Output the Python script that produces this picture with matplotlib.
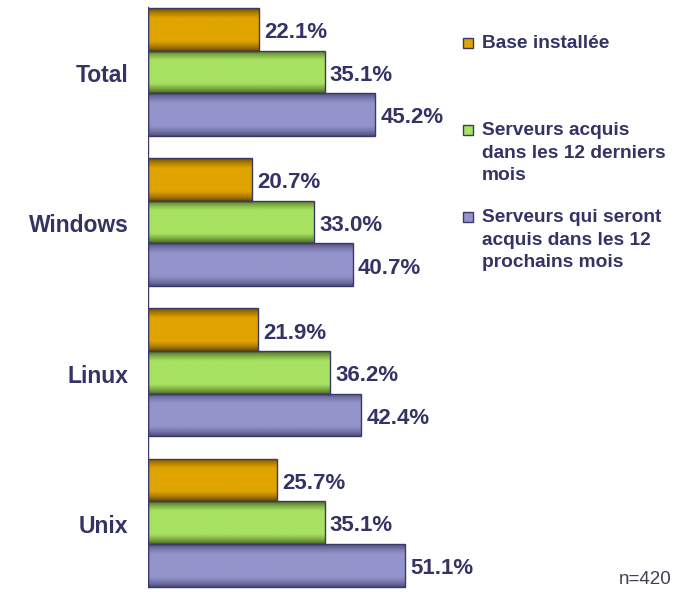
import numpy as np
import matplotlib
matplotlib.use("Agg")
import matplotlib.pyplot as plt
from matplotlib.colors import LinearSegmentedColormap

plt.rcParams['font.family'] = ['Liberation Sans', 'DejaVu Sans']

categories = ["Total", "Windows", "Linux", "Unix"]
base_installee = [22.1, 20.7, 21.9, 25.7]
acquis_12_derniers = [35.1, 33.0, 36.2, 35.1]
acquis_12_prochains = [45.2, 40.7, 42.4, 51.1]
series_labels = ["Base installée",
                 "Serveurs acquis\ndans les 12 derniers\nmois",
                 "Serveurs qui seront\nacquis dans les 12\nprochains mois"]

txt = '#333366'
# (dark edge, light middle) for each series
shades = [('#6a4800', '#e0a400'), ('#46651c', '#a8e262'), ('#4c4c7c', '#9494cc')]

fig = plt.figure(figsize=(6.84, 5.92), dpi=100)
ax = fig.add_axes([148 / 684, 0, 503 / 684, 1])
ax.axis('off')

h = 0.284
y = np.arange(len(categories))
series = [base_installee, acquis_12_derniers, acquis_12_prochains]

prof = np.linspace(0, 1, 64)
grad = np.clip(np.sin(np.pi * prof) * 1.5, 0, 1) ** 0.8

for k, vals in enumerate(series):
    dark, light = shades[k]
    cmap = LinearSegmentedColormap.from_list('g%d' % k, [dark, light])
    bars = ax.barh(y + (k - 1) * h, vals, height=h, color=light,
                   edgecolor='#3a3a66', linewidth=1.0, zorder=2)
    for b, v in zip(bars, vals):
        x0, y0 = b.get_x(), b.get_y()
        im = ax.imshow(grad.reshape(-1, 1), cmap=cmap, aspect='auto',
                       extent=(x0, x0 + b.get_width(), y0 + b.get_height(), y0),
                       origin='upper', vmin=0, vmax=1, zorder=2.5)
        im.set_clip_path(b)
        b.set_facecolor('none')
        b.set_zorder(3)
        ax.text(v + 1.0, y0 + b.get_height() / 2 + 0.022, '%.1f%%' % v, va='center',
                ha='left', fontsize=16, fontweight='bold', color=txt)

ax.set_xlim(0, 100)
ax.set_ylim(3.462, -0.479)
ax.plot([0, 0], [-0.43, 3.43], color='#3a3a66', lw=1.0, zorder=4)

for i, c in enumerate(categories):
    ax.text(-3.9, i + 0.025, c, ha='right', va='center', fontsize=16.5,
            fontweight='bold', color=txt)

# legend
leg_y = [43, 153, 240]
for k, lab in enumerate(series_labels):
    nlines = lab.count('\n') + 1
    top = leg_y[k] - (nlines - 1) * 23.5 / 2
    fig.patches.append(plt.Rectangle((463 / 684, 1 - (top + 5) / 592), 10 / 684, 10 / 592,
                                     transform=fig.transFigure, facecolor=shades[k][1],
                                     edgecolor='#3a3a66', lw=1.0))
    fig.text(482 / 684, 1 - leg_y[k] / 592, lab, ha='left', va='center',
             fontsize=13.8, fontweight='bold', color=txt, linespacing=1.45)

fig.text(672 / 684, 1 - 580 / 592, "n=420", ha='right', va='center',
         fontsize=13.5, color='#404055')

fig.savefig('out.png', dpi=100)
